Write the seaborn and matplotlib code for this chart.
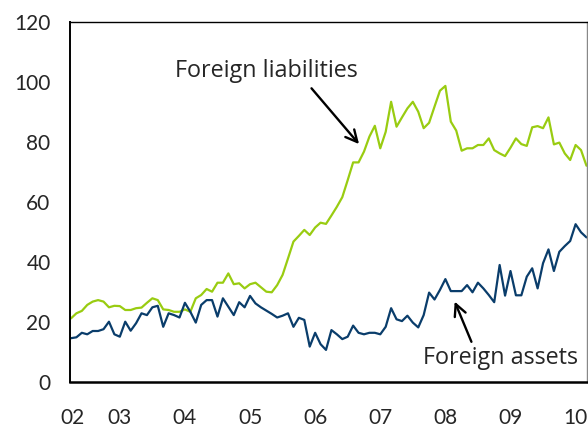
import numpy as np
import pandas as pd
import matplotlib
matplotlib.use("Agg")
import matplotlib.pyplot as plt
import seaborn as sns

# Monthly observations, April 2002 to March 2010
start_year = 2002.25
liabilities = [
    21.2, 22.9, 23.7, 25.7, 26.8, 27.3, 26.8, 24.9, 25.4, 25.3,
    24.0, 24.0, 24.6, 24.8, 26.4, 27.9, 27.3, 24.2, 24.0, 23.4,
    23.4, 24.2, 23.4, 27.9, 29.0, 31.0, 30.1, 33.1, 33.1, 36.2,
    32.6, 32.9, 31.2, 32.6, 33.1, 31.6, 30.1, 29.9, 32.3, 35.7,
    41.2, 46.8, 48.7, 50.7, 49.0, 51.5, 53.1, 52.7, 55.5, 58.4,
    61.6, 67.3, 73.2, 73.2, 76.8, 81.8, 85.4, 77.9, 83.4, 93.4,
    85.1, 88.2, 91.2, 93.4, 90.1, 84.6, 86.4, 91.8, 97.1, 98.7,
    86.8, 83.8, 77.1, 77.9, 77.9, 79.0, 79.0, 81.2, 77.3, 76.2,
    75.3, 78.1, 81.2, 79.3, 78.7, 84.9, 85.3, 84.6, 88.2, 79.2,
    79.8, 76.2, 74.0, 79.0, 77.3, 72.1,
]
assets = [
    14.6, 14.9, 16.4, 15.9, 17.0, 17.0, 17.6, 20.1, 15.9, 15.1,
    20.1, 17.1, 19.6, 22.9, 22.3, 24.9, 25.4, 18.4, 22.9, 22.3,
    21.5, 26.4, 23.4, 19.8, 25.7, 27.3, 27.3, 21.8, 27.9, 25.1,
    22.3, 26.6, 24.9, 28.7, 26.2, 24.9, 23.8, 22.7, 21.5, 22.1,
    22.9, 18.4, 21.4, 20.7, 11.8, 16.4, 12.6, 10.7, 17.3, 15.9,
    14.3, 15.1, 18.8, 16.4, 15.9, 16.4, 16.4, 15.9, 18.4, 24.6,
    20.9, 20.3, 22.1, 19.8, 18.2, 22.3, 29.8, 27.5, 30.7, 34.3,
    30.3, 30.3, 30.3, 32.3, 29.9, 33.1, 31.2, 29.0, 26.6, 39.0,
    28.8, 37.0, 28.9, 28.9, 35.1, 37.9, 31.2, 39.6, 44.2, 37.0,
    43.4, 45.3, 47.0, 52.6, 49.9, 48.2,
]
xtick_labels = ["02", "03", "04", "05", "06", "07", "08", "09", "10"]
ytick_values = [0, 20, 40, 60, 80, 100, 120]

years = start_year + np.arange(len(liabilities)) / 12.0
df = pd.DataFrame({"year": years, "liabilities": liabilities, "assets": assets})

sns.set_theme(style="white")
plt.rcParams["font.family"] = ["Lato", "DejaVu Sans"]

fig = plt.figure(figsize=(5.88, 4.30), dpi=100)
ax = fig.add_axes([70 / 588, 1 - 382 / 430, (587 - 70) / 588, (382 - 22) / 430])

green = "#99CC11"
navy = "#0A3D6B"
sns.lineplot(data=df, x="year", y="liabilities", ax=ax, color=green, linewidth=1.6)
sns.lineplot(data=df, x="year", y="assets", ax=ax, color=navy, linewidth=1.6)

ax.set_xlim(2002.235, 2010.175)
ax.set_ylim(0, 120)
ax.set_xlabel("")
ax.set_ylabel("")

xpos = [2002.28] + [2003 + k for k in range(len(xtick_labels) - 1)]
ax.set_xticks(xpos)
ax.set_xticklabels(xtick_labels, fontsize=15)
ax.set_yticks(ytick_values)
ax.set_yticklabels([str(v) for v in ytick_values], fontsize=15)
ax.tick_params(axis="x", length=0, pad=19)
ax.tick_params(axis="y", direction="in", length=5, width=1, color="black", pad=14)

for s in ["left", "bottom"]:
    ax.spines[s].set_color("black")
ax.spines["left"].set_linewidth(1.4)
ax.spines["bottom"].set_linewidth(1.8)
ax.spines["top"].set_color("black")
ax.spines["top"].set_linewidth(1.0)
ax.spines["right"].set_color("#888888")
ax.spines["right"].set_linewidth(1.0)

label_font = ["Open Sans", "DejaVu Sans"]
ax.text(2005.258, 103.7, "Foreign liabilities", ha="center", va="center",
        fontsize=16.8, family=label_font)
ax.text(2008.849, 8.0, "Foreign assets", ha="center", va="center",
        fontsize=16.8, family=label_font)

arrow = dict(arrowstyle="->,head_length=0.7,head_width=0.35", color="black", lw=1.7,
             shrinkA=0, shrinkB=0)
ax.annotate("", xy=(2006.674, 79.3), xytext=(2005.944, 97.9), arrowprops=arrow)
ax.annotate("", xy=(2008.143, 26.8), xytext=(2008.40, 13.4), arrowprops=arrow)

fig.savefig("out.png", dpi=100)
